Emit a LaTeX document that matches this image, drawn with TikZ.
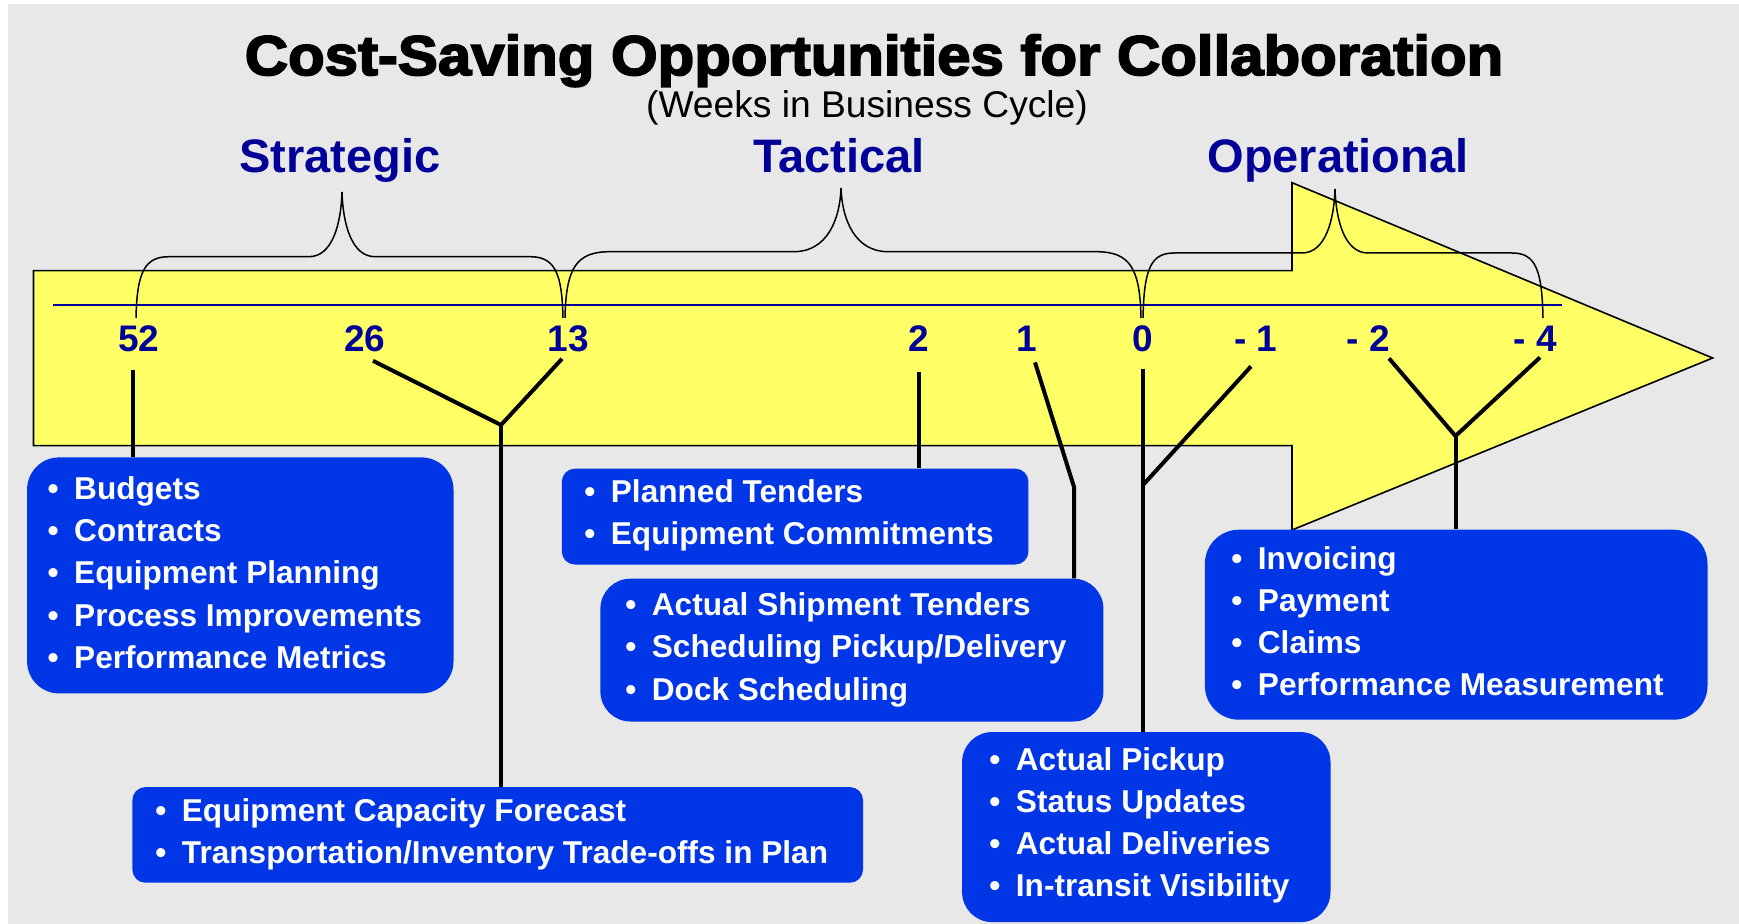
\documentclass[tikz,border=0pt]{standalone}
\usepackage{fontspec}
\setmainfont{Liberation Sans}
\newfontfamily\heavyfont[FakeBold=3.2,FakeStretch=1.07]{Liberation Sans Bold}
\definecolor{bggray}{HTML}{E8E8E8}
\definecolor{arrowyellow}{HTML}{FFFF66}
\definecolor{cardblue}{HTML}{0036E6}
\definecolor{navy}{HTML}{000099}
\tikzset{phase/.style = {font=\bfseries\fontsize{23.5}{28}\selectfont, text=navy, anchor=base},
         week/.style  = {font=\bfseries\fontsize{18.5}{22}\selectfont, text=navy, anchor=base, inner sep=0pt},
         card/.style  = {fill=cardblue, anchor=north west, inner sep=0pt},
         item/.style  = {font=\bfseries\fontsize{15.8}{19}\selectfont, text=white, anchor=base west, inner sep=0pt},
         link/.style  = {line width=2pt},
         brace/.style = {line width=0.75pt}}
\newcommand\bul{\makebox[0.84em][l]{\textbullet}}

\begin{document}
\begin{tikzpicture}[x=0.5pt, y=-0.5pt]
    \useasboundingbox (0,0) rectangle (1739,924);
    \fill [white] (0,0) rectangle (1739,924);
    \fill [bggray] (8,4) rectangle (1739,924);

    % the big arrow and its time axis
    \filldraw [fill=arrowyellow, line width=0.8pt, line join=miter]
      (33.5,270.7) -- (1292,270.7) -- (1292,182.7) -- (1712.6,358)
      -- (1292,530) -- (1292,445.7) -- (33.5,445.7) -- cycle;
    \draw [navy, line width=1pt] (52.7,305) -- (1561.5,305);

    % headings
    \node [anchor=base, font=\heavyfont\fontsize{28}{32}\selectfont] (title) at (874,75)
      {Cost-Saving Opportunities for Collaboration};
    \node [anchor=base, font=\fontsize{18.6}{22}\selectfont] (subtitle) at (867,118)
      {(Weeks in Business Cycle)};
    \node [phase] (strategic) at (340,173) {Strategic};
    \node [phase] (tactical) at (839,173) {Tactical};
    \node [phase] (operational) at (1338,173) {Operational};

    % braces: left end, peak, right end, top, peak height, corner, shoulder
    \foreach \xa/\xp/\xb/\yt/\yp/\r/\d in {136/342/563/256.7/192/33/33,
                                           565/841/1141/251.7/188/45/47,
                                           1143/1335/1543/253/189/31/33} {
      \draw [brace] (\xa,318) .. controls (\xa+1,\yt+16) and (\xa+0.25*\r,\yt) .. (\xa+\r,\yt)
        -- (\xp-\d,\yt) .. controls (\xp-0.3*\d,\yt) and (\xp-1,\yt-32) .. (\xp,\yp)
        .. controls (\xp+1,\yt-32) and (\xp+0.3*\d,\yt) .. (\xp+\d,\yt)
        -- (\xb-\r,\yt) .. controls (\xb-0.25*\r,\yt) and (\xb-1,\yt+16) .. (\xb,318);
    }

    % weeks
    \foreach \lbl/\name/\x in {52/w52/139, 26/w26/365, 13/w13/568, 2/w2/919, 1/w1/1027,
                               0/w0/1143, - 1/wm1/1256, - 2/wm2/1368, - 4/wm4/1535}
      \node [week] (\name) at (\x,352) {\lbl};

    % boxes
    \node [card, rounded corners=16pt, minimum width=213.2pt, minimum height=118pt] (strat) at (26.7,457) {};
    \foreach \txt [count=\i from 0] in {Budgets, Contracts, Equipment Planning,
                                        Process Improvements, Performance Metrics}
      \node [item] (strat-\i) at (47.3,499.3+42.25*\i) {\bul\txt};

    \node [card, rounded corners=6.5pt, minimum width=233.3pt, minimum height=47.9pt] (plan) at (561.4,468.3) {};
    \foreach \txt [count=\i from 0] in {Planned Tenders, Equipment Commitments}
      \node [item] (plan-\i) at (584,502.7+42.3*\i) {\bul\txt};

    \node [card, rounded corners=15pt, minimum width=251.5pt, minimum height=71.4pt] (ship) at (600,578.3) {};
    \foreach \txt [count=\i from 0] in {Actual Shipment Tenders, Scheduling Pickup/Delivery,
                                        Dock Scheduling}
      \node [item] (ship-\i) at (625,615+42.5*\i) {\bul\txt};

    \node [card, rounded corners=6.5pt, minimum width=365.3pt, minimum height=47.8pt] (fcst) at (132,786.7) {};
    \foreach \txt [count=\i from 0] in {Equipment Capacity Forecast,
                                        Transportation/Inventory Trade-offs in Plan}
      \node [item] (fcst-\i) at (155,821.7+41.6*\i) {\bul\txt};

    \node [card, rounded corners=15pt, minimum width=184.2pt, minimum height=95pt] (pick) at (961.7,731.7) {};
    \foreach \txt [count=\i from 0] in {Actual Pickup, Status Updates, Actual Deliveries,
                                        In-transit Visibility}
      \node [item] (pick-\i) at (989,770.7+42*\i) {\bul\txt};

    \node [card, rounded corners=17pt, minimum width=251.3pt, minimum height=95pt] (bill) at (1204.5,529.3) {};
    \foreach \txt [count=\i from 0] in {Invoicing, Payment, Claims, Performance Measurement}
      \node [item] (bill-\i) at (1231,569.3+41.9*\i) {\bul\txt};

    % connectors from weeks to boxes
    \coordinate (t52) at ([shift={(-6,17)}]w52.south);
    \draw [link] (t52) -- (t52 |- strat.north);

    \coordinate (fork-s) at (501,425);
    \draw [link] ([shift={(8,8)}]w26.south) -- (fork-s) -- ([shift={(-6,6)}]w13.south);
    \draw [link] (fork-s) -- (fork-s |- fcst.north);

    \draw [link] ([yshift=-10pt]w2.south) -- (w2.south |- plan.north);

    \coordinate (bend-1) at (1074,487);
    \draw [link] ([shift={(8,10)}]w1.south) -- (bend-1) -- (bend-1 |- ship.north);

    \draw [link] ([yshift=-8pt]w0.south) -- (w0.south |- pick.north);
    \coordinate (fork-o) at (1143,485);
    \draw [link] ([shift={(-5,14)}]wm1.south) -- (fork-o);

    \coordinate (fork-p) at (1455.5,436);
    \draw [link] ([shift={(21,6)}]wm2.south) -- (fork-p) -- ([shift={(5,5)}]wm4.south);
    \draw [link] (fork-p) -- (fork-p |- bill.north);
\end{tikzpicture}
\end{document}
